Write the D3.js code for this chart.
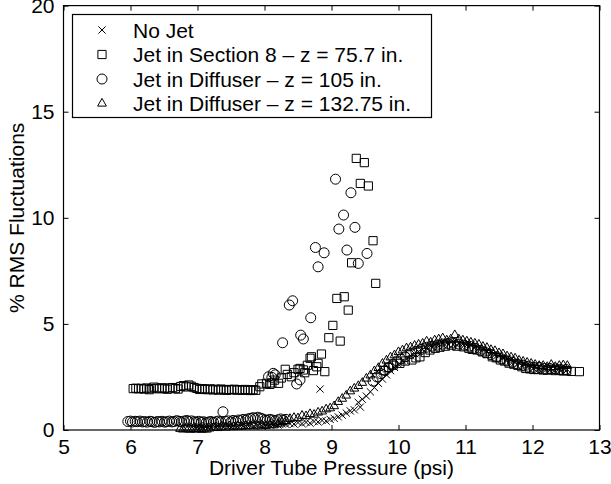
<!DOCTYPE html>
<html>
<head>
<meta charset="utf-8">
<script src="https://cdn.jsdelivr.net/npm/d3@7/dist/d3.min.js"></script>
<style>
  html, body { margin: 0; padding: 0; background: #fff; }
  svg { display: block; }
  text { font-family: "Liberation Sans", Arial, Helvetica, sans-serif; fill: #000; }
</style>
</head>
<body>
<svg id="chart" width="611" height="484"></svg>
<script>
// Axis ticks
const xTicks = [5, 6, 7, 8, 9, 10, 11, 12, 13];
const yTicks = [0, 5, 10, 15, 20];

// Legend entries
const seriesNames = [
  "No Jet",
  "Jet in Section 8 \u2013 z = 75.7 in.",
  "Jet in Diffuser \u2013 z = 105 in.",
  "Jet in Diffuser \u2013 z = 132.75 in."
];

// No jet: driver tube pressure (psi) and % RMS fluctuations
const noJetP = [7.00,7.06,7.12,7.18,7.24,7.30,7.36,7.42,7.48,7.54,7.60,7.66,7.72,7.78,7.84,7.90,7.96,8.02,8.08,8.14,8.20,8.26,8.32,8.38,8.44,8.50,8.56,8.62,8.68,8.74,8.83,8.80,8.86,8.92,8.98,9.04,9.10,9.16,9.22,9.28,9.34,9.43,9.40,9.46,9.52,9.58,9.64,9.70,9.76,9.82,9.88,9.94,10.00,10.06,10.12,10.18,10.24,10.30,10.36,10.42,10.48,10.54,10.60,10.66,10.72,10.78,10.84,10.90,10.96,11.02,11.08,11.14,11.20,11.26,11.32,11.38,11.44,11.50,11.56,11.62,11.68,11.74,11.80,11.86,11.92,11.98,12.04,12.10,12.16,12.22,12.28,12.34,12.40,12.46,12.52];
const noJetRms = [0.18,0.15,0.20,0.16,0.22,0.18,0.20,0.24,0.20,0.22,0.18,0.25,0.20,0.23,0.19,0.24,0.20,0.26,0.22,0.28,0.24,0.30,0.26,0.30,0.28,0.35,0.30,0.36,0.32,0.40,1.93,0.38,0.45,0.42,0.50,0.55,0.62,0.70,0.80,0.90,0.95,1.08,1.30,1.45,1.60,1.80,2.00,2.20,2.40,2.60,2.80,2.95,3.10,3.25,3.35,3.50,3.60,3.70,3.80,3.85,3.95,4.00,4.05,4.10,4.10,4.15,4.10,4.10,4.05,4.00,4.00,3.90,3.85,3.80,3.70,3.65,3.55,3.50,3.40,3.35,3.30,3.20,3.15,3.10,3.05,3.00,3.00,2.95,2.95,2.90,2.90,2.92,2.88,2.90,2.85];

// Jet in section 8, z = 75.7 in.
const sec8P = [6.04,6.08,6.12,6.16,6.20,6.24,6.28,6.31,6.35,6.39,6.43,6.47,6.51,6.55,6.59,6.63,6.67,6.71,6.75,6.79,6.83,6.87,6.91,6.95,6.99,7.03,7.07,7.11,7.15,7.19,7.23,7.27,7.31,7.35,7.39,7.43,7.47,7.51,7.55,7.59,7.63,7.67,7.71,7.75,7.79,7.83,7.87,
  7.93,7.96,8.03,8.08,8.11,8.15,8.21,8.25,8.31,8.34,8.40,8.44,8.50,8.53,8.58,8.60,8.64,8.68,8.70,8.73,8.78,8.80,8.85,8.90,8.96,9.02,9.08,9.13,9.19,9.25,9.30,9.37,9.43,9.49,9.55,9.62,9.66,
  9.78,9.85,9.92,10.02,10.10,10.20,10.26,10.32,10.40,10.47,10.55,10.62,10.70,10.79,10.87,10.97,11.05,11.10,11.17,11.25,11.32,11.40,11.46,11.52,11.58,11.65,11.72,11.78,11.84,11.90,11.96,12.02,12.08,12.16,12.22,12.28,12.34,12.40,12.46,12.51,12.58,12.70];
const sec8Rms = [1.95,1.97,1.94,1.96,1.93,1.98,1.90,1.95,2.02,1.97,1.94,1.99,1.96,1.92,1.98,2.00,1.95,1.93,2.05,2.09,2.03,2.12,2.06,2.00,1.96,1.91,1.95,1.92,1.90,1.94,1.89,1.92,1.88,1.93,1.90,1.87,1.91,1.89,1.92,1.88,1.90,1.87,1.91,1.88,1.86,1.90,1.87,
  2.04,2.17,2.20,2.15,2.22,2.35,2.20,2.45,2.86,2.62,2.51,2.70,2.86,2.90,2.83,2.70,3.05,3.38,3.45,2.80,2.98,3.14,3.58,2.75,4.35,4.93,6.20,4.19,6.28,5.65,7.88,12.80,11.62,12.60,11.50,8.92,6.91,
  2.80,2.95,3.05,3.14,3.25,3.30,3.40,3.45,3.65,3.77,3.85,3.90,3.95,4.00,3.95,3.92,3.85,3.80,3.77,3.68,3.60,3.45,3.40,3.30,3.25,3.15,3.10,3.05,2.98,2.90,2.88,2.85,2.85,2.83,2.82,2.86,2.80,2.82,2.78,2.80,2.76,2.75];

// Jet in diffuser, z = 105 in.
const dif105P = [5.96,6.00,6.03,6.07,6.10,6.14,6.18,6.21,6.25,6.29,6.32,6.36,6.40,6.43,6.47,6.51,6.54,6.58,6.62,6.65,6.69,6.73,6.76,6.80,6.84,6.87,6.91,6.95,6.98,7.02,7.06,7.09,7.13,7.17,7.20,7.24,7.28,7.31,7.35,7.38,7.42,7.46,7.50,7.53,7.57,7.61,7.64,7.68,7.72,7.75,7.79,7.83,7.86,7.90,7.94,7.97,8.01,8.04,8.08,8.12,8.16,8.20,8.24,8.28,8.32,
  8.06,8.11,8.13,8.16,8.27,8.37,8.42,8.48,8.53,8.54,8.58,8.69,8.76,8.80,8.89,9.06,9.11,9.18,9.23,9.29,9.35,9.40,9.53,
  9.62,9.68,9.74,9.80,9.86,9.92,9.98,10.04,10.10,10.18,10.26,10.34,10.42,10.50,10.58,10.66,10.74,10.82,10.90,10.98,11.06,11.14,11.22,11.30,11.38,11.46,11.54,11.62,11.70,11.78,11.86,11.94,12.02,12.10,12.18,12.26,12.34,12.42,12.50];
const dif105Rms = [0.40,0.42,0.38,0.41,0.39,0.42,0.38,0.40,0.37,0.41,0.39,0.36,0.40,0.38,0.41,0.37,0.39,0.42,0.38,0.40,0.44,0.41,0.38,0.42,0.45,0.40,0.43,0.39,0.37,0.41,0.36,0.39,0.35,0.38,0.40,0.36,0.39,0.42,0.38,0.86,0.40,0.43,0.38,0.45,0.41,0.47,0.44,0.50,0.46,0.52,0.55,0.58,0.54,0.60,0.56,0.52,0.48,0.45,0.50,0.47,0.44,0.48,0.52,0.46,0.50,
  2.51,2.48,2.67,2.60,4.11,5.89,6.09,2.17,2.36,4.47,4.29,5.29,8.60,7.69,8.35,11.82,9.47,10.13,8.48,11.18,9.55,7.85,8.32,
  2.30,2.50,2.65,2.80,2.95,3.10,3.25,3.35,3.45,3.60,3.70,3.80,3.90,3.95,4.00,4.05,4.08,4.10,4.05,4.00,3.95,3.85,3.75,3.65,3.55,3.45,3.35,3.25,3.20,3.10,3.05,3.00,2.95,2.95,2.90,2.90,2.88,2.85,2.85];

// Jet in diffuser, z = 132.75 in.
const dif133P = [6.74,6.78,6.82,6.86,6.90,6.94,6.98,7.02,7.06,7.10,7.14,7.18,7.24,7.30,7.36,7.42,7.48,7.54,7.60,7.66,7.72,7.78,7.84,7.90,7.96,8.02,8.08,8.14,8.20,8.26,8.32,8.38,8.44,8.50,8.56,8.62,8.68,8.74,8.80,8.86,8.92,8.98,9.04,9.10,9.16,9.22,9.28,9.34,9.40,9.46,9.52,9.58,9.64,9.70,9.76,9.82,9.88,9.94,10.00,10.06,10.12,10.18,10.24,10.30,10.36,10.42,10.48,10.54,10.60,10.66,10.72,10.78,10.84,10.90,10.96,11.02,11.08,11.14,11.20,11.26,11.32,11.38,11.44,11.50,11.56,11.62,11.68,11.74,11.80,11.86,11.92,11.98,12.04,12.10,12.16,12.22,12.28,12.34,12.40,12.46,12.52];
const dif133Rms = [0.08,0.05,0.10,0.06,0.04,0.08,0.05,0.07,0.04,0.06,0.05,0.10,0.15,0.12,0.18,0.14,0.20,0.16,0.20,0.18,0.22,0.20,0.24,0.20,0.25,0.22,0.28,0.25,0.30,0.40,0.45,0.55,0.60,0.58,0.70,0.68,0.78,0.75,0.85,0.90,1.00,1.05,1.15,1.35,1.50,1.65,1.85,1.98,2.10,2.25,2.45,2.60,2.80,2.95,3.15,3.30,3.45,3.55,3.70,3.78,3.88,3.92,4.00,4.05,4.10,4.20,4.15,4.25,4.30,4.35,4.25,4.30,4.50,4.30,4.25,4.20,4.15,4.10,4.05,3.95,3.90,3.80,3.75,3.65,3.60,3.50,3.45,3.40,3.30,3.25,3.20,3.15,3.10,3.05,3.05,3.00,3.10,3.00,3.05,3.08,3.05];

const svg = d3.select("#chart");
const x = d3.scaleLinear().domain([5, 13]).range([63.5, 599.5]);
const y = d3.scaleLinear().domain([0, 20]).range([430, 5.6]);

const FONT = 21;
const tickLen = 5;

// Marker outlines, centred on the origin
const markerPath = {
  x: "M-3.6,-3.6L3.6,3.6M-3.6,3.6L3.6,-3.6",
  square: "M-4.1,-4.1H4.1V4.1H-4.1Z",
  circle: "M5,0A5,5 0 1 1 -5,0A5,5 0 1 1 5,0Z",
  triangle: "M0,-4.6L4.4,3.1H-4.4Z"
};

const series = [
  { name: seriesNames[0], p: noJetP, r: noJetRms, m: "x" },
  { name: seriesNames[1], p: sec8P, r: sec8Rms, m: "square" },
  { name: seriesNames[2], p: dif105P, r: dif105Rms, m: "circle" },
  { name: seriesNames[3], p: dif133P, r: dif133Rms, m: "triangle" }
];

// Data markers
const gData = svg.append("g");
series.forEach(s => {
  gData.append("g")
    .selectAll("path")
    .data(s.p.map((p, i) => [p, s.r[i]]))
    .join("path")
    .attr("d", markerPath[s.m])
    .attr("transform", d => `translate(${x(d[0])},${y(d[1])})`)
    .attr("fill", "none")
    .attr("stroke", "#000")
    .attr("stroke-width", 1);
});

// Axes box with inward ticks on all four sides
const gAxes = svg.append("g");
const axB = d3.axisBottom(x).tickValues(xTicks).tickSize(-tickLen).tickPadding(9).tickFormat(d3.format("d"));
const axT = d3.axisTop(x).tickValues(xTicks).tickSize(-tickLen).tickFormat("");
const axL = d3.axisLeft(y).tickValues(yTicks).tickSize(-tickLen).tickPadding(9).tickFormat(d3.format("d"));
const axR = d3.axisRight(y).tickValues(yTicks).tickSize(-tickLen).tickFormat("");

function styleAxis(g) {
  g.selectAll(".domain").remove();
  g.selectAll(".tick line").attr("stroke", "#000").attr("stroke-width", 1);
  g.selectAll(".tick text").attr("font-size", FONT).attr("font-family", "Liberation Sans, Arial, sans-serif").attr("fill", "#000");
}
gAxes.append("g").attr("transform", `translate(0,${y(0)})`).call(axB).call(styleAxis);
gAxes.append("g").attr("transform", `translate(0,${y(20)})`).call(axT).call(styleAxis);
gAxes.append("g").attr("transform", `translate(${x(5)},0)`).call(axL).call(styleAxis);
gAxes.append("g").attr("transform", `translate(${x(13)},0)`).call(axR).call(styleAxis);

gAxes.append("rect")
  .attr("x", x(5)).attr("y", y(20))
  .attr("width", x(13) - x(5)).attr("height", y(0) - y(20))
  .attr("fill", "none").attr("stroke", "#000").attr("stroke-width", 1.2);

// Axis titles
svg.append("text")
  .attr("x", (x(5) + x(13)) / 2).attr("y", 475)
  .attr("text-anchor", "middle").attr("font-size", FONT)
  .text("Driver Tube Pressure (psi)");
svg.append("text")
  .attr("transform", `translate(24,${(y(0) + y(20)) / 2}) rotate(-90)`)
  .attr("text-anchor", "middle").attr("font-size", FONT)
  .text("% RMS Fluctuations");

// Legend
const leg = svg.append("g");
leg.append("rect")
  .attr("x", 72.5).attr("y", 14.5).attr("width", 359).attr("height", 103)
  .attr("fill", "#fff").attr("stroke", "#000").attr("stroke-width", 1.2);
const rowY = [30, 54.5, 79, 103];
series.forEach((s, i) => {
  leg.append("path")
    .attr("d", markerPath[s.m])
    .attr("transform", `translate(102,${rowY[i]})`)
    .attr("fill", "none").attr("stroke", "#000").attr("stroke-width", 1);
  leg.append("text")
    .attr("x", 133).attr("y", rowY[i]).attr("dy", "0.36em")
    .attr("font-size", FONT)
    .text(s.name);
});
</script>
</body>
</html>
